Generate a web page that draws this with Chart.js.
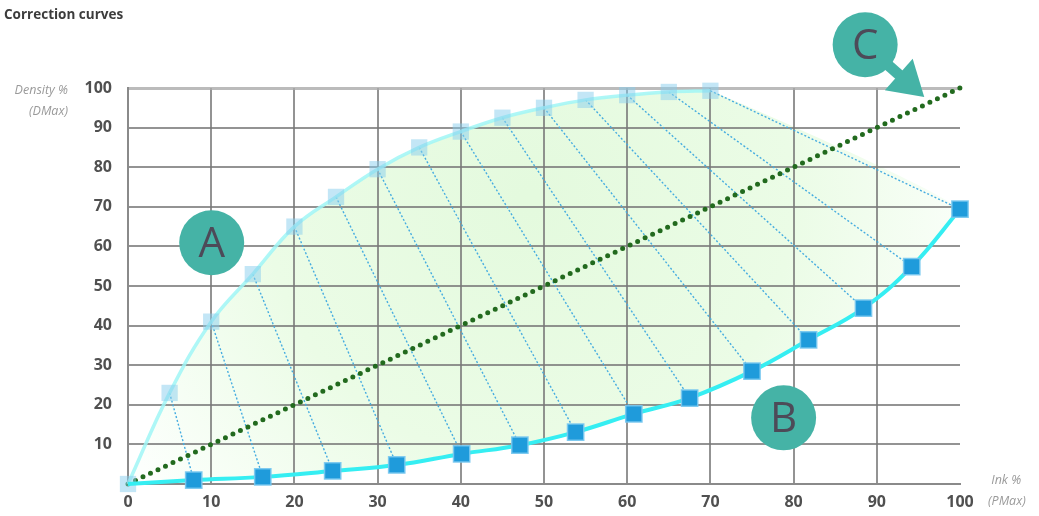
<!DOCTYPE html>
<html>
<head>
<meta charset="utf-8">
<script src="https://cdn.jsdelivr.net/npm/chart.js@4.4.1/dist/chart.umd.min.js"></script>
<style>
  body { margin: 0; background: #fff; font-family: "Open Sans", sans-serif; }
  #wrap { position: relative; width: 1039px; height: 516px; }
  .lbl { position: absolute; white-space: nowrap; }
  #title { left: 4px; top: 5px; font-size: 13.5px; font-weight: 700; color: #3c3c3c; }
  .ax { font-size: 12.5px; font-style: italic; color: #9a9a9a; text-align: right; line-height: 21px; }
</style>
</head>
<body>
<div id="wrap">
  <canvas id="chart" width="1039" height="516"></canvas>
  <div id="title" class="lbl">Correction curves</div>
  <div class="lbl ax" style="right:971px; top:79px;">Density %<br>(DMax)</div>
  <div class="lbl ax" style="left:988px; top:469px; text-align:left;">&nbsp;Ink %<br>(PMax)</div>
</div>
<script>
// curve A (before correction)
const aX = [0, 5, 10, 15, 20, 25, 30, 35, 40, 45, 50, 55, 60, 65, 70];
const aY = [0, 23, 41, 53, 65, 72.5, 79.5, 85, 89, 92.5, 95, 97, 98.2, 99, 99.3];
// curve B (corrected)
const bX = [0, 7.9, 16.2, 24.6, 32.3, 40.1, 47.1, 53.8, 60.8, 67.5, 75, 81.8, 88.4, 94.2, 100];
const bY = [0, 1, 1.8, 3.3, 4.8, 7.6, 9.8, 13.1, 17.7, 21.7, 28.5, 36.4, 44.4, 54.9, 69.4];
// reference diagonal C
const cX = [0, 100];
const cY = [0, 100];
const tickLabels = ['0', '10', '20', '30', '40', '50', '60', '70', '80', '90', '100'];
// letter badges (data coordinates)
const badges = [
    { text: 'A', x: 10.06, y: 60.9 },
    { text: 'B', x: 78.8, y: 16.7 },
    { text: 'C', x: 88.6, y: 110.9, arrowX: 95.7, arrowY: 97.7 }
];

const ptsA = aX.map((x, i) => ({ x: x, y: aY[i] }));
const ptsB = bX.map((x, i) => ({ x: x, y: bY[i] }));
const ptsC = cX.map((x, i) => ({ x: x, y: cY[i] }));

// closed region between the two curves
const shape = ptsA.concat(ptsB.slice().reverse());

// dotted connectors A[i] -> B[i]
const links = [];
for (let i = 1; i < ptsA.length; i++) {
    links.push(ptsA[i], ptsB[i], { x: ptsB[i].x, y: null });
}

const badgePlugin = {
    id: 'badges',
    afterDraw(chart) {
        const ctx = chart.ctx;
        const xs = chart.scales.x, ys = chart.scales.y;
        const teal = '#45b3a6';
        badges.forEach(b => {
            const cx = xs.getPixelForValue(b.x), cy = ys.getPixelForValue(b.y);
            ctx.save();
            if (b.arrowX !== undefined) {
                const tx = xs.getPixelForValue(b.arrowX), ty = ys.getPixelForValue(b.arrowY);
                const ang = Math.atan2(ty - cy, tx - cx);
                const len = Math.hypot(tx - cx, ty - cy);
                ctx.translate(cx, cy);
                ctx.rotate(ang);
                ctx.fillStyle = teal;
                ctx.fillRect(0, -5.5, len - 30, 11);
                ctx.beginPath();
                ctx.moveTo(len, 0);
                ctx.lineTo(len - 34, -21);
                ctx.lineTo(len - 34, 21);
                ctx.closePath();
                ctx.fill();
                ctx.setTransform(1, 0, 0, 1, 0, 0);
            }
            ctx.fillStyle = teal;
            ctx.beginPath();
            ctx.arc(cx, cy, 32.5, 0, Math.PI * 2);
            ctx.fill();
            ctx.fillStyle = '#4d4a58';
            ctx.font = '42px "Open Sans", sans-serif';
            ctx.textAlign = 'center';
            ctx.textBaseline = 'middle';
            ctx.fillText(b.text, cx, cy + 2);
            ctx.restore();
        });
    }
};

const gridColor = 'rgba(120,120,120,0.8)';

new Chart(document.getElementById('chart'), {
    type: 'scatter',
    data: {
        datasets: [
            {
                data: ptsB,
                showLine: true,
                borderColor: '#35eef2',
                borderWidth: 4,
                tension: 0.4,
                pointStyle: 'rect',
                pointRadius: ptsB.map((p, i) => i === 0 ? 0 : 11.5),
                pointBackgroundColor: '#1f9bdb',
                pointBorderColor: 'rgba(120,200,240,0.9)',
                pointBorderWidth: 1.5,
                clip: false,
                order: 1
            },
            {
                data: ptsA,
                showLine: true,
                borderColor: 'rgba(160,246,246,0.85)',
                borderWidth: 3.5,
                tension: 0.4,
                pointStyle: 'rect',
                pointRadius: 11.5,
                pointBackgroundColor: 'rgba(135,205,238,0.5)',
                pointBorderWidth: 0,
                clip: false,
                order: 2
            },
            {
                data: ptsC,
                showLine: true,
                borderColor: '#226a1e',
                borderWidth: 5,
                borderDash: [0, 8.3],
                borderCapStyle: 'round',
                pointRadius: 0,
                clip: false,
                order: 3
            },
            {
                data: links,
                showLine: true,
                spanGaps: false,
                borderColor: '#45ace0',
                borderWidth: 1.4,
                borderDash: [2, 2],
                tension: 0,
                pointRadius: 0,
                order: 4
            },
            {
                data: shape,
                showLine: true,
                borderWidth: 0,
                borderColor: 'rgba(0,0,0,0)',
                tension: 0.15,
                pointRadius: 0,
                fill: 'shape',
                backgroundColor: function(context) {
                    const area = context.chart.chartArea;
                    if (!area) return '#e8fbe3';
                    const g = context.chart.ctx.createRadialGradient(530, 200, 10, 530, 200, 470);
                    g.addColorStop(0, '#e4fade');
                    g.addColorStop(0.55, '#ebfce6');
                    g.addColorStop(1, '#fcfffc');
                    return g;
                },
                order: 5
            }
        ]
    },
    options: {
        responsive: false,
        animation: false,
        layout: { padding: { top: 88, right: 79, left: 0, bottom: 0 } },
        plugins: {
            legend: { display: false },
            tooltip: { enabled: false },
            filler: { drawTime: 'beforeDraw' }
        },
        scales: {
            x: {
                type: 'linear',
                min: 0,
                max: 100,
                afterFit: s => { s.height = 32; },
                afterBuildTicks: s => { s.ticks = tickLabels.map(t => ({ value: Number(t) })); },
                ticks: {
                    padding: 9,
                    color: '#505050',
                    font: { family: '"Open Sans", sans-serif', size: 16, weight: 'bold' },
                    callback: (v, i) => tickLabels[i]
                },
                grid: {
                    drawTicks: false,
                    lineWidth: 2,
                    color: c => (c.tick && c.tick.value === 100) ? 'rgba(0,0,0,0)' : gridColor
                },
                border: { color: '#8a8a8a', width: 2 }
            },
            y: {
                type: 'linear',
                min: 0,
                max: 100,
                afterFit: s => { s.width = 128; },
                afterBuildTicks: s => { s.ticks = tickLabels.map(t => ({ value: Number(t) })); },
                ticks: {
                    padding: 16,
                    color: '#505050',
                    font: { family: '"Open Sans", sans-serif', size: 16, weight: 'bold' },
                    callback: (v, i) => i === 0 ? '' : tickLabels[i]
                },
                grid: {
                    drawTicks: false,
                    lineWidth: c => (c.tick && c.tick.value === 100) ? 3 : 2,
                    color: c => (c.tick && c.tick.value === 100) ? 'rgba(170,170,170,0.8)' : gridColor
                },
                border: { color: '#8a8a8a', width: 2 }
            }
        }
    },
    plugins: [badgePlugin]
});
</script>
</body>
</html>
